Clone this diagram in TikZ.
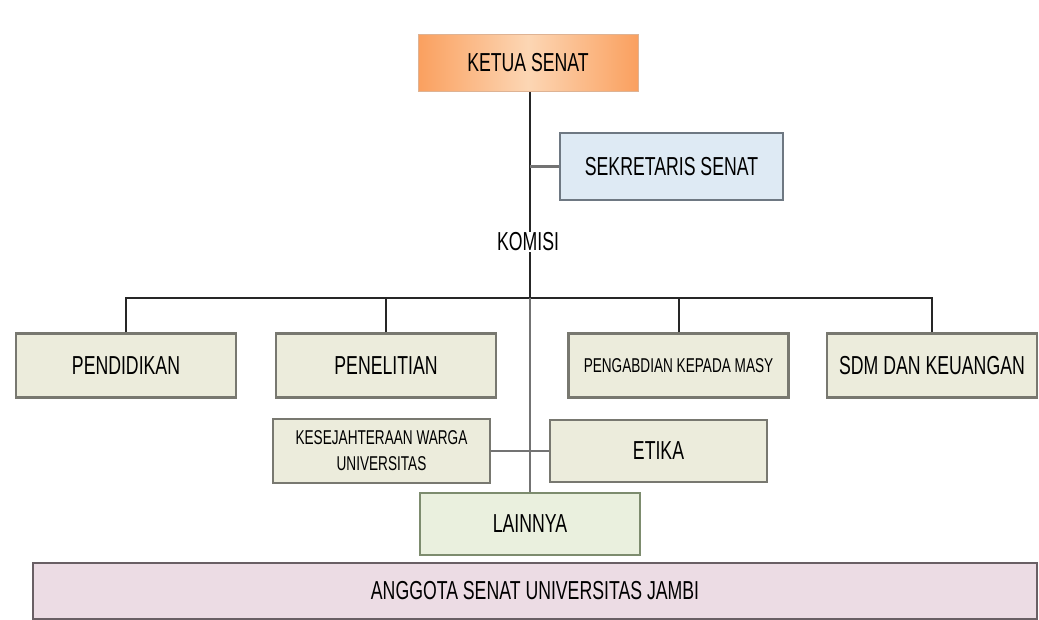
\documentclass[tikz,border=0pt]{standalone}
\usepackage{fontspec}
\usepackage{xcolor}
\usepackage{tikz}
\usetikzlibrary{positioning, calc}

\newfontfamily\orgfont[FakeStretch=0.68]{Liberation Sans}

\definecolor{komisifill}{RGB}{236,236,220}
\definecolor{boxedge}{RGB}{120,120,112}
\definecolor{sekrfill}{RGB}{222,234,244}
\definecolor{sekredge}{RGB}{110,120,130}
\definecolor{ketuaorange}{RGB}{250,160,95}
\definecolor{ketualight}{RGB}{252,214,180}
\definecolor{lainfill}{RGB}{234,240,222}
\definecolor{lainedge}{RGB}{125,140,110}
\definecolor{anggotafill}{RGB}{236,220,228}
\definecolor{anggotaedge}{RGB}{105,95,100}

\begin{document}
\begin{tikzpicture}[
    x=1pt, y=-1pt,
    font=\orgfont\fontsize{26}{28}\selectfont,
    box/.style    ={rectangle, draw=boxedge, line width=2.5pt, fill=komisifill,
                    minimum width=220pt, minimum height=64pt, align=center, inner sep=2pt},
    ketuabox/.style={rectangle, draw=ketuaorange!80!black!60, line width=1pt,
                    left color=ketuaorange, right color=ketuaorange, middle color=ketualight,
                    minimum width=220pt, minimum height=57pt, align=center},
    sekrbox/.style={rectangle, draw=sekredge, line width=2.5pt, fill=sekrfill,
                    minimum width=223pt, minimum height=67pt, align=center},
    lainbox/.style={rectangle, draw=lainedge, line width=2.5pt, fill=lainfill,
                    minimum width=220pt, minimum height=62pt, align=center},
    anggotabox/.style={rectangle, draw=anggotaedge, line width=2pt, fill=anggotafill,
                    minimum width=1004pt, minimum height=56pt, align=center},
    small/.style  ={font=\orgfont\fontsize{20}{22}\selectfont},
    link/.style   ={draw=black!85, line width=2pt},
    sublink/.style={draw=black!55, line width=2.5pt},
]
\useasboundingbox (0,0) rectangle (1039,619);

% ---- Pimpinan ----
\node[ketuabox] (ketua) at (528,63) {KETUA SENAT};
\node[sekrbox] (sekr) at (671.5,166.5) {SEKRETARIS SENAT};
\node[inner sep=1pt] (komisi) at (528,242) {KOMISI};
\coordinate (bus) at (530,298);

% ---- Komisi baris 1 ----
\node[box] (pend) at (126,365.5) {PENDIDIKAN};
\node[box] (pene) at (386,365.5) {PENELITIAN};
\node[box, small] (peng) at (678.5,365.5) {PENGABDIAN KEPADA MASY};
\node[box, minimum width=210pt] (sdm) at (932,365.5) {SDM DAN KEUANGAN};

% ---- Komisi baris 2 ----
\node[box, minimum width=217pt, font=\orgfont\fontsize{20}{26}\selectfont] (kesej) at (381.5,451)
  {KESEJAHTERAAN WARGA\\UNIVERSITAS};
\node[box, minimum width=217pt, minimum height=62pt] (etika) at (658.5,451) {ETIKA};
\node[lainbox] (lain) at (530,524) {LAINNYA};

% ---- Anggota ----
\node[anggotabox] (anggota) at (535,591) {ANGGOTA SENAT UNIVERSITAS JAMBI};

% ---- Garis ----
\draw[link] (ketua.south -| bus) -- (komisi.north -| bus);
\draw[sublink] (sekr.west -| bus) -- (sekr.west);
\draw[link] (komisi.south -| bus) -- (bus);
\draw[link] (pend.north) |- (bus) -| (sdm.north);
\draw[link] (pene.north) -- (pene.north |- bus);
\draw[link] (peng.north) -- (peng.north |- bus);
\draw[sublink] (bus) -- (lain.north -| bus);
\draw[sublink] (kesej.east) -- (etika.west);

\end{tikzpicture}
\end{document}
